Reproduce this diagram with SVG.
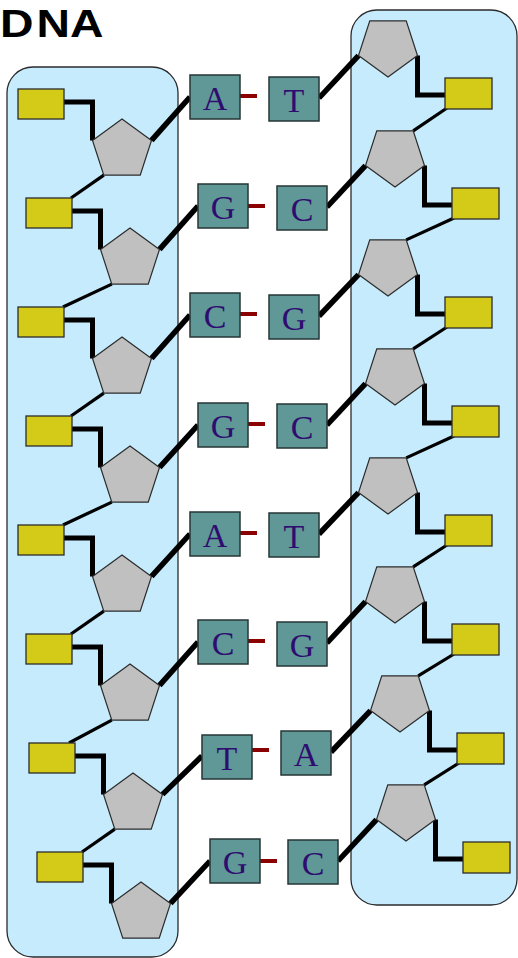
<svg xmlns="http://www.w3.org/2000/svg" width="518" height="958" viewBox="0 0 518 958">
  <defs>
    <!-- sugar pentagons, r = 31: upright for the left strand, inverted for the right -->
    <polygon id="sugar-up" points="0,-31 29.48,-9.58 18.22,25.08 -18.22,25.08 -29.48,-9.58"/>
    <polygon id="sugar-down" points="0,31 -29.48,9.58 -18.22,-25.08 18.22,-25.08 29.48,9.58"/>
  </defs>
  <style>
    .panel { fill: #c6ebfc; stroke: #2b2b2b; stroke-width: 1.3; }
    .sugar { fill: #c0c0c0; stroke: #2b2b2b; stroke-width: 1.2; }
    .phosphate { fill: #d4ca18; stroke: #2b2b2b; stroke-width: 1.3; }
    .base { fill: #5f9896; stroke: #263636; stroke-width: 1.5; }
    .base-label { font-family: "Liberation Serif", "Times New Roman", serif; font-size: 34px; fill: #2e0c70; text-anchor: middle; }
    .elbow { fill: none; stroke: #000; stroke-width: 5; stroke-linejoin: miter; }
    .stem { fill: none; stroke: #000; stroke-width: 5.5; }
    .backbone { fill: none; stroke: #000; stroke-width: 3.2; }
    .hbond { fill: none; stroke: #8b0000; stroke-width: 4; }
    .title { font-family: "Liberation Sans", Arial, sans-serif; font-weight: bold; font-size: 38px; fill: #000; }
  </style>

  <rect width="518" height="958" fill="#ffffff"/>

  <text class="title" transform="scale(1.22 1)" x="0 30 57.4" y="37">DNA</text>

  <!-- strand backgrounds -->
  <rect id="strand-left" class="panel" x="7" y="67" width="171" height="890" rx="26" ry="26"/>
  <rect id="strand-right" class="panel" x="351" y="10" width="166" height="895" rx="26" ry="26"/>

  <!-- connectors -->
  <g id="connectors">
    <!-- left strand: phosphate to sugar elbows -->
    <path class="elbow" d="M64 102 H92.5 V140.4"/>
    <path class="elbow" d="M72 211 H100.5 V249.4"/>
    <path class="elbow" d="M64 320 H92.5 V358.4"/>
    <path class="elbow" d="M72 429 H100.5 V467.4"/>
    <path class="elbow" d="M64 538 H92.5 V576.4"/>
    <path class="elbow" d="M72 647 H100.5 V685.4"/>
    <path class="elbow" d="M75 756 H103.5 V794.4"/>
    <path class="elbow" d="M83 865 H111.5 V903.4"/>
    <!-- left strand: sugar to base -->
    <path class="stem" d="M151.5 140.4 L190 97"/>
    <path class="stem" d="M159.5 249.4 L198 206"/>
    <path class="stem" d="M151.5 358.4 L190 315"/>
    <path class="stem" d="M159.5 467.4 L198 425"/>
    <path class="stem" d="M151.5 576.4 L190 534"/>
    <path class="stem" d="M159.5 685.4 L198 642"/>
    <path class="stem" d="M162.5 794.4 L202 756"/>
    <path class="stem" d="M170.5 903.4 L210 861"/>
    <!-- left strand: sugar to next phosphate -->
    <path class="backbone" d="M103.8 175.1 L71 198"/>
    <path class="backbone" d="M111.8 284.1 L63 307"/>
    <path class="backbone" d="M103.8 393.1 L71 416"/>
    <path class="backbone" d="M111.8 502.1 L63 525"/>
    <path class="backbone" d="M103.8 611.1 L71 634"/>
    <path class="backbone" d="M111.8 720.1 L69 743"/>
    <path class="backbone" d="M114.8 829.1 L82 852"/>

    <!-- right strand: sugar to phosphate elbows -->
    <path class="elbow" d="M417.5 55.6 V95 H445"/>
    <path class="elbow" d="M424.5 165.6 V205 H452"/>
    <path class="elbow" d="M417.5 274.6 V314 H445"/>
    <path class="elbow" d="M424.5 383.6 V423 H452"/>
    <path class="elbow" d="M417.5 492.6 V532 H445"/>
    <path class="elbow" d="M424.5 601.6 V641 H452"/>
    <path class="elbow" d="M429.5 710.6 V750 H457"/>
    <path class="elbow" d="M435.5 819.6 V859 H463"/>
    <!-- right strand: base to sugar -->
    <path class="stem" d="M319 98 L358.5 55.6"/>
    <path class="stem" d="M327 207 L365.5 165.6"/>
    <path class="stem" d="M319 316 L358.5 274.6"/>
    <path class="stem" d="M327 425 L365.5 383.6"/>
    <path class="stem" d="M319 534 L358.5 492.6"/>
    <path class="stem" d="M327 643 L365.5 601.6"/>
    <path class="stem" d="M331 752 L370.5 710.6"/>
    <path class="stem" d="M338 861 L376.5 819.6"/>
    <!-- right strand: phosphate to next sugar -->
    <path class="backbone" d="M447 108 L413.2 130.9"/>
    <path class="backbone" d="M454 218 L406.2 239.9"/>
    <path class="backbone" d="M447 327 L413.2 348.9"/>
    <path class="backbone" d="M454 436 L406.2 457.9"/>
    <path class="backbone" d="M447 545 L413.2 566.9"/>
    <path class="backbone" d="M454 654 L418.2 675.9"/>
    <path class="backbone" d="M459 763 L424.2 784.9"/>

    <!-- base pairing bonds -->
    <path class="hbond" d="M240 96 H257"/>
    <path class="hbond" d="M248 206 H265"/>
    <path class="hbond" d="M240 314 H257"/>
    <path class="hbond" d="M248 424 H265"/>
    <path class="hbond" d="M240 533 H257"/>
    <path class="hbond" d="M248 641 H265"/>
    <path class="hbond" d="M252 750 H269"/>
    <path class="hbond" d="M260 861 H277"/>
  </g>

  <!-- left strand nucleotides -->
  <g id="left-1"><rect class="phosphate" x="18" y="89" width="46" height="30"/><use href="#sugar-up" class="sugar" x="122" y="150"/><rect class="base" x="190" y="75" width="50" height="44"/><text class="base-label" x="215" y="110">A</text></g>
  <g id="left-2"><rect class="phosphate" x="26" y="198" width="46" height="30"/><use href="#sugar-up" class="sugar" x="130" y="259"/><rect class="base" x="198" y="184" width="50" height="44"/><text class="base-label" x="223" y="219">G</text></g>
  <g id="left-3"><rect class="phosphate" x="18" y="307" width="46" height="30"/><use href="#sugar-up" class="sugar" x="122" y="368"/><rect class="base" x="190" y="293" width="50" height="44"/><text class="base-label" x="215" y="328">C</text></g>
  <g id="left-4"><rect class="phosphate" x="26" y="416" width="46" height="30"/><use href="#sugar-up" class="sugar" x="130" y="477"/><rect class="base" x="198" y="403" width="50" height="44"/><text class="base-label" x="223" y="438">G</text></g>
  <g id="left-5"><rect class="phosphate" x="18" y="525" width="46" height="30"/><use href="#sugar-up" class="sugar" x="122" y="586"/><rect class="base" x="190" y="512" width="50" height="44"/><text class="base-label" x="215" y="547">A</text></g>
  <g id="left-6"><rect class="phosphate" x="26" y="634" width="46" height="30"/><use href="#sugar-up" class="sugar" x="130" y="695"/><rect class="base" x="198" y="620" width="50" height="44"/><text class="base-label" x="223" y="655">C</text></g>
  <g id="left-7"><rect class="phosphate" x="29" y="743" width="46" height="30"/><use href="#sugar-up" class="sugar" x="133" y="804"/><rect class="base" x="202" y="735" width="50" height="44"/><text class="base-label" x="227" y="770">T</text></g>
  <g id="left-8"><rect class="phosphate" x="37" y="852" width="46" height="30"/><use href="#sugar-up" class="sugar" x="141" y="913"/><rect class="base" x="210" y="839" width="50" height="44"/><text class="base-label" x="235" y="874">G</text></g>

  <!-- right strand nucleotides -->
  <g id="right-1"><rect class="phosphate" x="445" y="78" width="47" height="31"/><use href="#sugar-down" class="sugar" x="388" y="46"/><rect class="base" x="269" y="77" width="50" height="44"/><text class="base-label" x="294" y="112">T</text></g>
  <g id="right-2"><rect class="phosphate" x="452" y="188" width="47" height="31"/><use href="#sugar-down" class="sugar" x="395" y="156"/><rect class="base" x="277" y="186" width="50" height="44"/><text class="base-label" x="302" y="221">C</text></g>
  <g id="right-3"><rect class="phosphate" x="445" y="297" width="47" height="31"/><use href="#sugar-down" class="sugar" x="388" y="265"/><rect class="base" x="269" y="295" width="50" height="44"/><text class="base-label" x="294" y="330">G</text></g>
  <g id="right-4"><rect class="phosphate" x="452" y="406" width="47" height="31"/><use href="#sugar-down" class="sugar" x="395" y="374"/><rect class="base" x="277" y="404" width="50" height="44"/><text class="base-label" x="302" y="439">C</text></g>
  <g id="right-5"><rect class="phosphate" x="445" y="515" width="47" height="31"/><use href="#sugar-down" class="sugar" x="388" y="483"/><rect class="base" x="269" y="513" width="50" height="44"/><text class="base-label" x="294" y="548">T</text></g>
  <g id="right-6"><rect class="phosphate" x="452" y="624" width="47" height="31"/><use href="#sugar-down" class="sugar" x="395" y="592"/><rect class="base" x="277" y="622" width="50" height="44"/><text class="base-label" x="302" y="657">G</text></g>
  <g id="right-7"><rect class="phosphate" x="457" y="733" width="47" height="31"/><use href="#sugar-down" class="sugar" x="400" y="701"/><rect class="base" x="281" y="731" width="50" height="44"/><text class="base-label" x="306" y="766">A</text></g>
  <g id="right-8"><rect class="phosphate" x="463" y="842" width="47" height="31"/><use href="#sugar-down" class="sugar" x="406" y="810"/><rect class="base" x="288" y="840" width="50" height="44"/><text class="base-label" x="313" y="875">C</text></g>
</svg>
